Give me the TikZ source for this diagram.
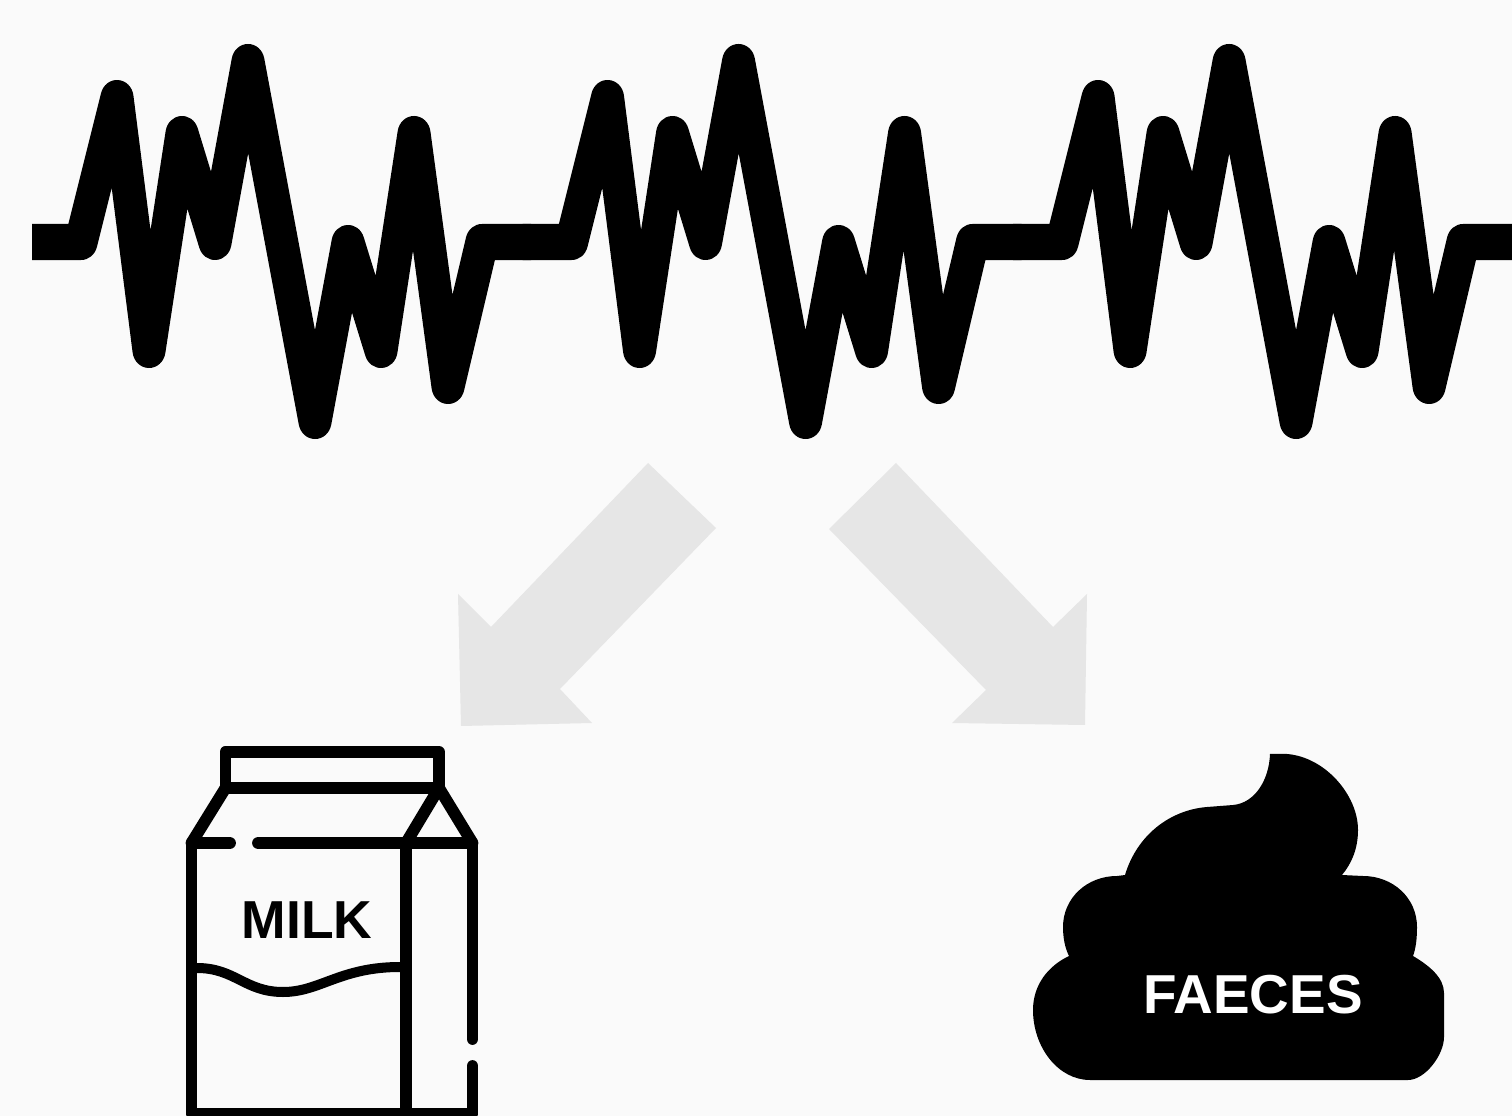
\documentclass[tikz,border=0pt]{standalone}
\usepackage{fontspec}
\setmainfont{Liberation Sans}
\definecolor{paper}{HTML}{FAFAFA}
\definecolor{arrowgray}{HTML}{E6E6E6}
\tikzset{
  wave/.style={line width=.36cm,line join=round},
  carton/.style={line width=.118cm,line cap=round,line join=round}
}
\begin{document}
\begin{tikzpicture}[x=.01cm,y=-.01cm]
    \clip(0,0)rectangle(1512,1116);
    \fill[paper](0,0)rectangle(1512,1116);
    % signal, the same stretch three times, squeezed a little sideways
    \begin{scope}[transform canvas={xscale=.92},x=.01087cm]
    \foreach\shift in{0,490.5,981}
    \draw[wave,xshift=\shift*.01087cm](32,242)--(81,242)--(117,98)--(149,350)--(182,134)--(215,242)--(248,62)--(315,421)--(348,243)--(381,350)--(414,134)--(448,386)--(482,242)--(531,242);
    \end{scope}
    % arrows
    \fill[arrowgray](648,463)--(716,528)--(560,689)--(592,723)--(461,726)--(458,594)--(491,627)--cycle;
    \fill[arrowgray](896,463)--(829,529)--(986,690)--(952,723)--(1085,725)--(1087,594)--(1053,627)--cycle;
    % carton
    \draw[carton](225.5,788)--(225.5,752)--(439,752)--(439,788)--cycle;
    \draw[carton](225.5,788)--(191.5,843)--(230,843);
    \draw[carton](258,843)--(472.5,843)--(439,788)--(406,843);
    \draw[carton](191.5,843)--(191.5,1113.5)--(472.5,1113.5)--(472.5,1066);
    \draw[carton](406,843)--(406,1113.5);
    \draw[carton](472.5,843)--(472.5,1039);
    \draw[carton,line width=.1cm,line cap=butt](197,968)..controls(235,968)and(245,992)..(283,992)..controls(320,992)and(340,967)..(400,967);
    \node(milk)at(307,920){\fontsize{15.2}{18}\selectfont\bfseries MILK};
    % faeces
    \fill(1270,754)--(1287,754)..controls(1325,757)and(1358,795)..(1358,830)..controls(1358,848)and(1352,863)..(1342,875)--(1363,876)..controls(1393,876)and(1417,898)..(1417,927)..controls(1417,938)and(1416,948)..(1413,956)..controls(1430,966)and(1444,978)..(1444,993)--(1444,1037)..controls(1444,1055)and(1425,1080)..(1408,1080)--(1090,1080)..controls(1058,1080)and(1033,1047)..(1033,1010)..controls(1033,985)and(1048,966)..(1069,956)..controls(1065,948)and(1063,938)..(1063,927)..controls(1063,898)and(1087,876)..(1117,876)--(1125,875)..controls(1137,835)and(1170,810)..(1207,807)--(1233,805)..controls(1255,803)and(1269,780)..(1270,754)--cycle;
    \node[white](faeces)at(1253,995){\fontsize{15.6}{18}\selectfont\bfseries FAECES};
  \end{tikzpicture}
\end{document}
